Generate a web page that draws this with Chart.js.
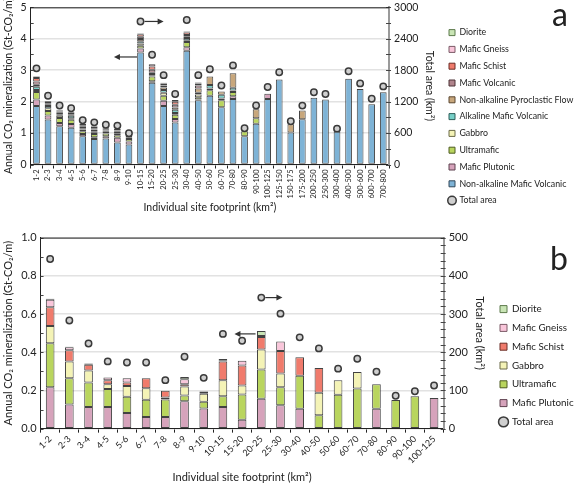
<!DOCTYPE html>
<html>
<head>
<meta charset="utf-8">
<script src="https://cdn.jsdelivr.net/npm/chart.js@4.4.1/dist/chart.umd.min.js"></script>
<style>
  html, body { margin: 0; padding: 0; background: #fff; overflow: hidden; }
  #wrapA { position: absolute; left: 0; top: -4px; width: 574px; height: 234px; }
  #wrapB { position: absolute; left: 0; top: 226px; width: 574px; height: 258px; }
</style>
</head>
<body>
<div id="wrapA"><canvas id="chartA"></canvas></div>
<div id="wrapB"><canvas id="chartB"></canvas></div>
<script>
// ---- panel a ----
const catsA = ['1-2','2-3','3-4','4-5','5-6','6-7','7-8','8-9','9-10','10-15','15-20','20-25','25-30','30-40','40-50','50-60','60-70','70-80','80-90','90-100','100-125','125-150','150-175','175-200','200-250','250-300','300-400','400-500','500-600','600-700','700-800'];

const nonAlkMaficVolcA = [1.86,1.43,1.22,1.17,0.90,0.81,0.83,0.70,0.64,3.56,2.60,1.86,1.34,3.62,2.04,2.19,1.82,2.08,0.90,1.30,2.08,2.70,1.02,1.44,2.12,2.07,1.05,2.73,2.40,1.92,2.30];
const maficPlutonicA   = [0.21,0.13,0.10,0.12,0.07,0.06,0.07,0.15,0.09,0.13,0.05,0.17,0.11,0.11,0.03,0,0,0.09,0,0,0.17,0,0,0,0,0,0,0,0,0,0];
const ultramaficA      = [0.24,0.14,0.16,0.13,0.09,0.10,0.09,0.08,0.08,0.09,0.15,0.16,0.13,0.17,0.07,0.17,0.22,0.14,0.16,0.17,0,0,0,0,0,0,0,0,0,0,0];
const gabbroA          = [0.06,0.09,0.07,0.05,0.05,0.04,0.05,0.05,0.03,0.07,0.04,0.09,0.06,0.05,0.09,0.06,0.06,0.04,0,0,0,0,0,0,0,0,0,0,0,0,0];
const alkMaficVolcA    = [0.10,0.07,0.05,0.08,0.04,0.05,0.04,0.06,0.03,0.07,0.04,0.09,0.10,0.07,0.05,0.11,0.12,0.09,0,0,0,0,0,0,0,0,0,0,0,0,0];
const pyroclasticA     = [0.07,0.04,0.05,0.05,0.05,0.05,0.04,0.04,0.05,0.07,0.04,0.08,0.07,0.04,0.14,0.27,0.10,0.46,0,0.29,0,0,0.26,0.28,0,0,0,0,0,0,0];
const maficVolcA       = [0.10,0.05,0.04,0.04,0.05,0.04,0.03,0.05,0,0.07,0.09,0.06,0.09,0.06,0.09,0,0,0,0,0,0,0,0,0,0,0,0,0,0,0,0];
const maficSchistA     = [0.11,0.05,0.03,0.02,0.04,0.06,0,0,0,0.08,0.11,0.07,0.10,0.08,0.07,0,0,0,0,0,0,0,0,0,0,0,0,0,0,0,0];
const maficGneissA     = [0.05,0.02,0.02,0,0,0.02,0,0,0,0.03,0.07,0.02,0.05,0.03,0.03,0,0,0,0,0,0,0,0,0,0,0,0,0,0,0,0];
const dioriteA         = [0.01,0,0,0,0,0,0,0,0,0,0,0,0,0,0,0,0,0,0,0,0,0,0,0,0,0,0,0,0,0,0];
const totalAreaA = [1835,1311,1126,1075,844,805,760,743,597,2730,2094,1705,1345,2758,1705,1818,1508,1891,692,1126,1480,1762,825,1124,1379,1345,684,1780,1548,1254,1491];

// ---- panel b ----
const catsB = ['1-2','2-3','3-4','4-5','5-6','6-7','7-8','8-9','9-10','10-15','15-20','20-25','25-30','30-40','40-50','50-60','60-70','70-80','80-90','90-100','100-125'];
const maficPlutonicB = [0.217,0.127,0.113,0.113,0.082,0.061,0.061,0.143,0.106,0.113,0.047,0.157,0.123,0.104,0,0,0,0.104,0,0,0.160];
const ultramaficB    = [0.230,0.137,0.129,0.094,0.085,0.090,0.092,0.031,0.035,0.056,0.132,0.153,0.094,0.173,0.070,0.177,0.210,0.129,0.150,0.169,0];
const gabbroB        = [0.090,0.087,0.062,0.026,0.056,0.061,0.010,0.047,0.042,0.085,0.047,0.104,0.072,0,0.118,0.077,0.087,0,0,0,0];
const maficSchistB   = [0.098,0.059,0.030,0.021,0.019,0.052,0.035,0.012,0.010,0.097,0.104,0.066,0.118,0.097,0.130,0,0,0,0,0,0];
const maficGneissB   = [0.040,0.016,0.005,0.014,0.022,0,0,0.026,0.003,0.004,0.025,0.005,0.049,0,0,0,0,0,0,0,0];
const dioriteB       = [0.005,0.003,0.002,0,0,0,0,0.012,0,0.010,0,0.026,0,0,0,0,0,0,0,0,0];
const totalAreaB = [444,283,223,176,173,173,127,188,133,248,230,343,301,239,210,157,183,149,86,98,113];

// arrows: [category, axis, value, direction]
const arrowsA = [['10-15','y2',2730,'right'], ['10-15','y',3.42,'left']];
const arrowsB = [['20-25','y2',343,'right'], ['20-25','y',0.496,'left']];

const colors = {
  'Diorite': ['#c9e5b5', '#5d7a4c'],
  'Mafic Gneiss': ['#f9c6da', '#7a5a66'],
  'Mafic Schist': ['#f07b6c', '#6a2d26'],
  'Mafic Volcanic': ['#b0848c', '#4c3236'],
  'Non-alkaline Pyroclastic Flow': ['#c8a77c', '#5a4630'],
  'Alkaline Mafic Volcanic': ['#77d0c8', '#2f5e5a'],
  'Gabbro': ['#f4f3b6', '#6b6a48'],
  'Ultramafic': ['#b9d55e', '#4e5c22'],
  'Mafic Plutonic': ['#d6a3bb', '#5e4250'],
  'Non-alkaline Mafic Volcanic': ['#7eb3d6', '#33495a']
};

const FONT = 'Lato, "Open Sans", sans-serif';

function barSet(label, values, pct) {
  return {
    type: 'bar', label: label,
    data: values.map(v => v > 0 ? v : null),
    backgroundColor: colors[label][0],
    borderColor: 'rgba(45,45,45,0.9)',
    borderWidth: 1,
    borderSkipped: false,
    stack: 's', yAxisID: 'y', order: 2,
    barPercentage: pct, categoryPercentage: 1
  };
}

function areaSet(values) {
  return {
    type: 'line', label: 'Total area', data: values, yAxisID: 'y2',
    showLine: false, order: 0,
    pointStyle: 'circle', pointRadius: 3.2,
    pointBackgroundColor: '#cfcfcf', pointBorderColor: '#3a3a3a', pointBorderWidth: 1.5,
    backgroundColor: '#cfcfcf', borderColor: '#3a3a3a', borderWidth: 1.5
  };
}

function legendLabels(chart) {
  const ds = chart.data.datasets;
  const items = [];
  for (let i = ds.length - 1; i >= 0; i--) {
    if (ds[i].type !== 'bar') continue;
    items.push({ text: ds[i].label, fillStyle: ds[i].backgroundColor, strokeStyle: colors[ds[i].label][1],
      lineWidth: 1, pointStyle: 'rect', datasetIndex: i, fontColor: '#222' });
  }
  ds.forEach((d, i) => {
    if (d.type === 'line') items.push({ text: d.label, fillStyle: '#cfcfcf', strokeStyle: '#3a3a3a',
      lineWidth: 1.5, pointStyle: 'circle', datasetIndex: i, fontColor: '#222' });
  });
  return items;
}

// frame, minor ticks, arrows, panel letter
const decor = {
  id: 'decor',
  afterDraw(chart, args, opts) {
    const { ctx, chartArea: a, scales } = chart;
    ctx.save();
    ctx.strokeStyle = '#444'; ctx.lineWidth = 1;
    const y = scales.y, y2 = scales.y2;
    for (let v = y.min; v <= y.max + 1e-9; v += opts.minorY) {
      const py = Math.round(y.getPixelForValue(v)) + 0.5;
      ctx.beginPath(); ctx.moveTo(a.left, py); ctx.lineTo(a.left + 3, py); ctx.stroke();
    }
    for (let v = y2.min; v <= y2.max + 1e-9; v += opts.minorY2) {
      const py = Math.round(y2.getPixelForValue(v)) + 0.5;
      ctx.beginPath(); ctx.moveTo(a.right - 3, py); ctx.lineTo(a.right + 2, py); ctx.stroke();
    }
    ctx.strokeStyle = '#222'; ctx.lineWidth = 1;
    ctx.beginPath(); ctx.moveTo(a.left, a.top + 0.5); ctx.lineTo(a.right, a.top + 0.5); ctx.stroke();
    // arrows
    ctx.strokeStyle = '#333'; ctx.fillStyle = '#333'; ctx.lineWidth = 1.2;
    const step = scales.x.getPixelForValue(1) - scales.x.getPixelForValue(0);
    opts.arrows.forEach(([cat, axis, val, dir]) => {
      const cx = scales.x.getPixelForValue(chart.data.labels.indexOf(cat));
      const py = scales[axis].getPixelForValue(val);
      let x0, x1;
      if (dir === 'right') { x0 = cx + 4; x1 = cx + step * opts.arrowLen; }
      else { x0 = cx - step * 0.3; x1 = cx - step * (0.3 + opts.arrowLen); }
      const s = dir === 'right' ? 1 : -1;
      ctx.beginPath(); ctx.moveTo(x0, py); ctx.lineTo(x1 - s * 5, py); ctx.stroke();
      ctx.beginPath(); ctx.moveTo(x1, py); ctx.lineTo(x1 - s * 6, py - 3); ctx.lineTo(x1 - s * 6, py + 3); ctx.closePath(); ctx.fill();
    });
    ctx.fillStyle = '#222';
    ctx.font = '32px ' + FONT;
    ctx.textAlign = 'right'; ctx.textBaseline = 'top';
    ctx.fillText(opts.letter, chart.width - 6, opts.letterTop);
    ctx.restore();
  }
};

function makeOptions(cfg) {
  return {
    responsive: true, maintainAspectRatio: false, animation: false,
    layout: { padding: cfg.padding },
    plugins: {
      tooltip: { enabled: false },
      legend: {
        position: 'right', align: 'start', maxWidth: cfg.legendWidth,
        title: { display: true, text: '', padding: cfg.legendTop, font: { size: 1 } },
        labels: { usePointStyle: true, boxWidth: cfg.legendBox, boxHeight: cfg.legendBox, padding: cfg.legendPad,
          font: { family: FONT, size: cfg.legendFont }, color: '#222', generateLabels: legendLabels }
      },
      decor: cfg.decor
    },
    scales: {
      x: {
        stacked: true, offset: true,
        grid: { offset: true, drawOnChartArea: false, tickLength: 4, color: '#222' },
        border: { color: '#222', width: 1 },
        ticks: { autoSkip: false, minRotation: cfg.rot, maxRotation: cfg.rot, padding: 1,
          font: { family: FONT, size: cfg.xFont }, color: '#222' },
        title: { display: true, text: 'Individual site footprint (km²)', padding: { top: cfg.xTitlePad, bottom: cfg.xTitleBottom },
          font: { family: FONT, size: cfg.titleFont }, color: '#222' }
      },
      y: {
        stacked: true, min: 0, max: cfg.yMax,
        grid: { color: '#e2e2e2', lineWidth: 1.5, drawTicks: false },
        border: { color: '#222', width: 1 },
        ticks: { stepSize: cfg.yStep, padding: 4, font: { family: FONT, size: cfg.yFont }, color: '#222',
          callback: cfg.yFmt },
        title: { display: true, text: 'Annual CO₂ mineralization (Gt-CO₂/m)', padding: { top: 0, bottom: 2 },
          font: { family: FONT, size: cfg.titleFont }, color: '#222' }
      },
      y2: {
        position: 'right', min: 0, max: cfg.y2Max,
        grid: { drawOnChartArea: false, drawTicks: false },
        border: { color: '#9a9a9a', width: 2 },
        ticks: { stepSize: cfg.y2Step, padding: 5, font: { family: FONT, size: cfg.yFont }, color: '#222',
          callback: v => String(v) },
        title: { display: true, text: 'Total area (km²)', padding: { top: 5, bottom: 0 },
          font: { family: FONT, size: cfg.titleFont }, color: '#222' }
      }
    }
  };
}

new Chart(document.getElementById('chartA'), {
  data: {
    labels: catsA,
    datasets: [
      barSet('Non-alkaline Mafic Volcanic', nonAlkMaficVolcA, 0.58),
      barSet('Mafic Plutonic', maficPlutonicA, 0.58),
      barSet('Ultramafic', ultramaficA, 0.58),
      barSet('Gabbro', gabbroA, 0.58),
      barSet('Alkaline Mafic Volcanic', alkMaficVolcA, 0.58),
      barSet('Non-alkaline Pyroclastic Flow', pyroclasticA, 0.58),
      barSet('Mafic Volcanic', maficVolcA, 0.58),
      barSet('Mafic Schist', maficSchistA, 0.58),
      barSet('Mafic Gneiss', maficGneissA, 0.58),
      barSet('Diorite', dioriteA, 0.58),
      areaSet(totalAreaA)
    ]
  },
  options: makeOptions({
    padding: { top: 0, right: 0, bottom: 0, left: 2 },
    legendTop: 11.5, legendPad: 8, legendFont: 8.8, legendBox: 6, legendWidth: 133,
    rot: 90, xFont: 7.5, xTitlePad: 2, xTitleBottom: 16, titleFont: 10.5, yFont: 10.5,
    yMax: 5, yStep: 1, y2Max: 3000, y2Step: 600, yFmt: v => v,
    decor: { minorY: 0.5, minorY2: 300, arrows: arrowsA, arrowLen: 2, letter: 'a', letterTop: 4 }
  }),
  plugins: [decor]
});

new Chart(document.getElementById('chartB'), {
  data: {
    labels: catsB,
    datasets: [
      barSet('Mafic Plutonic', maficPlutonicB, 0.45),
      barSet('Ultramafic', ultramaficB, 0.45),
      barSet('Gabbro', gabbroB, 0.45),
      barSet('Mafic Schist', maficSchistB, 0.45),
      barSet('Mafic Gneiss', maficGneissB, 0.45),
      barSet('Diorite', dioriteB, 0.45),
      areaSet(totalAreaB)
    ]
  },
  options: makeOptions({
    padding: { top: 10, right: 0, bottom: 0, left: 2 },
    legendTop: 29, legendPad: 9, legendFont: 9.8, legendBox: 7, legendWidth: 83,
    rot: 45, xFont: 9, xTitlePad: 4, xTitleBottom: 0, titleFont: 11, yFont: 11,
    yMax: 1, yStep: 0.2, y2Max: 500, y2Step: 100, yFmt: v => v.toFixed(1),
    decor: { minorY: 0.1, minorY2: 20, arrows: arrowsB, arrowLen: 1.1, letter: 'b', letterTop: 18 }
  }),
  plugins: [decor]
});
</script>
</body>
</html>
